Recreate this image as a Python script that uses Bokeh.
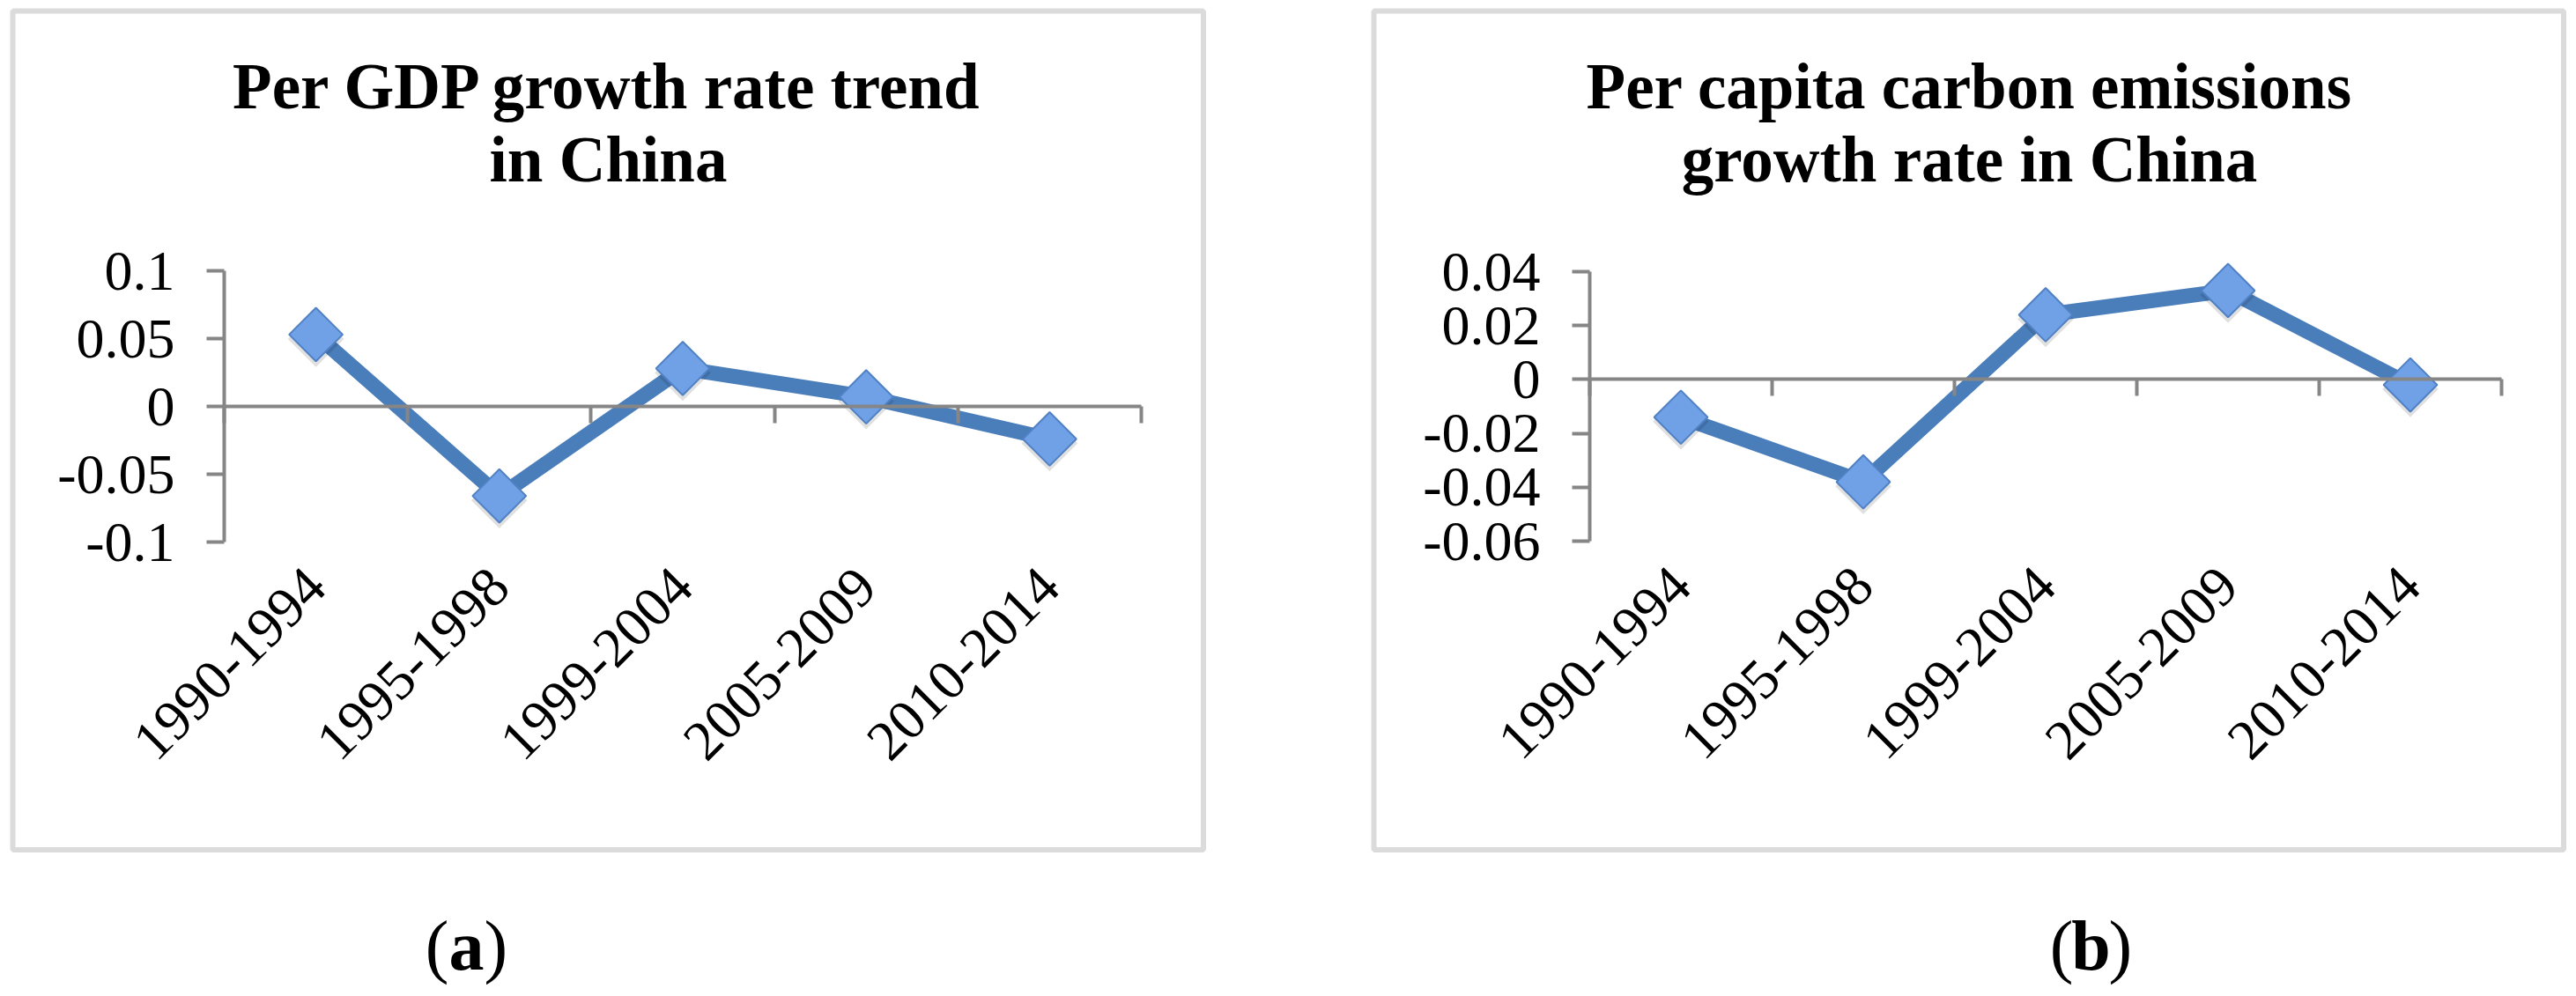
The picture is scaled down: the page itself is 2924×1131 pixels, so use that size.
import math
from bokeh.plotting import figure
from bokeh.models import Range1d, FixedTicker, Label, BoxAnnotation, LinearAxis
from bokeh.layouts import row
from bokeh.embed import file_html
from bokeh.resources import INLINE

# ---- data ----
categories = ["1990-1994", "1995-1998", "1999-2004", "2005-2009", "2010-2014"]
gdp_growth = [0.053, -0.066, 0.028, 0.007, -0.024]
carbon_growth = [-0.014, -0.038, 0.024, 0.033, -0.002]
gdp_ticks = [-0.1, -0.05, 0.0, 0.05, 0.1]
carbon_ticks = [-0.06, -0.04, -0.02, 0.0, 0.02, 0.04]
gdp_title = ["Per GDP growth rate trend", "in China"]
carbon_title = ["Per capita carbon emissions", "growth rate in China"]
captions = ["a", "b"]

GRAY = "#868686"
LINE_BLUE = "#4a7ebb"
FONT = "Liberation Serif"
H = 1131


def panel(values, ticks, title_lines, caption, W, fl, fr, ft, fb, box, title_px, cap_px):
    n = len(categories)
    ymin, ymax = ticks[0], ticks[-1]
    ux = (fr - fl) / n                 # pixels per category
    uy = (fb - ft) / (ymax - ymin)     # pixels per value unit

    def X(px):
        return (px - fl) / ux

    def Y(py):
        return ymax - (py - ft) / uy

    p = figure(width=W, height=H, x_range=Range1d(X(0), X(W)), y_range=Range1d(Y(H), Y(0)),
               output_backend="svg", toolbar_location=None,
               x_axis_location=None, y_axis_location=None, min_border=0)
    p.outline_line_color = None
    p.grid.visible = False
    p.background_fill_color = "white"
    p.border_fill_color = "white"

    # vertical value axis at the left boundary of the plot area
    ya = LinearAxis(fixed_location=0, bounds=(ymin, ymax),
                    ticker=FixedTicker(ticks=ticks, minor_ticks=[]))
    ya.major_label_overrides = {float(t): f"{t:g}" for t in ticks}
    ya.axis_line_color = GRAY
    ya.axis_line_width = 4
    ya.major_tick_line_color = GRAY
    ya.major_tick_line_width = 4
    ya.major_tick_out = 20
    ya.major_tick_in = 0
    ya.minor_tick_line_color = None
    ya.major_label_text_font = FONT
    ya.major_label_text_font_size = "64px"
    ya.major_label_text_color = "black"
    ya.major_label_standoff = 36
    p.add_layout(ya, "left")

    # horizontal axis line at zero, ticks between categories
    bounds = list(range(0, n + 1))
    za = LinearAxis(fixed_location=0, bounds=(0, n),
                    ticker=FixedTicker(ticks=bounds, minor_ticks=[]))
    za.major_label_overrides = {b: "" for b in bounds}
    za.axis_line_color = GRAY
    za.axis_line_width = 4
    za.major_tick_line_color = GRAY
    za.major_tick_line_width = 4
    za.major_tick_out = 19
    za.major_tick_in = 0
    za.minor_tick_line_color = None
    p.add_layout(za, "below")

    # category labels below the plot area
    centers = [i + 0.5 for i in range(n)]
    xa = LinearAxis(fixed_location=ymin, ticker=FixedTicker(ticks=centers, minor_ticks=[]))
    xa.major_label_overrides = {c: cat for c, cat in zip(centers, categories)}
    xa.axis_line_color = None
    xa.major_tick_line_color = None
    xa.minor_tick_line_color = None
    xa.major_tick_out = 0
    xa.major_tick_in = 0
    xa.major_label_orientation = math.pi / 4
    xa.major_label_text_font = FONT
    xa.major_label_text_font_size = "64px"
    xa.major_label_text_color = "black"
    xa.major_label_standoff = 40
    p.add_layout(xa, "below")

    # series
    p.line(x=centers, y=values, line_color=LINE_BLUE, line_width=17, line_join="round")
    p.scatter(x=centers, y=[v - 5 / uy for v in values], marker="square", angle=math.pi / 4,
              size=45, fill_color="black", fill_alpha=0.12, line_color=None)
    p.scatter(x=centers, y=values, marker="square", angle=math.pi / 4, size=43,
              fill_color="#70a0e6", line_color="#4f81c4", line_width=2)

    # title (two lines)
    for line, yb in zip(title_lines, [98, 181]):
        p.add_layout(Label(x=X(title_px), y=Y(yb), text=line,
                           text_align="center", text_baseline="alphabetic", text_font=FONT,
                           text_font_style="bold", text_font_size="73px", text_color="black"))

    # outer box
    bl, br, bt, bb = box
    p.add_layout(BoxAnnotation(left=X(bl), right=X(br), top=Y(bt), bottom=Y(bb),
                               fill_color=None, fill_alpha=0, line_color="#878787",
                               line_width=6))

    # caption "(a)"
    cy = Y(1073)
    p.add_layout(Label(x=X(cap_px - 20), y=cy, text="(",
                       text_align="right", text_baseline="alphabetic", text_font=FONT,
                       text_font_size="80px", text_color="black"))
    p.add_layout(Label(x=X(cap_px), y=cy, text=caption,
                       text_align="center", text_baseline="alphabetic", text_font=FONT,
                       text_font_style="bold", text_font_size="80px", text_color="black"))
    p.add_layout(Label(x=X(cap_px + 20), y=cy, text=")",
                       text_align="left", text_baseline="alphabetic", text_font=FONT,
                       text_font_size="80px", text_color="black"))
    return p


# left panel: figure origin at page (0, 0)
p1 = panel(gdp_growth, gdp_ticks, gdp_title, captions[0], W=1460,
           fl=254, fr=1295, ft=307, fb=615,
           box=(14, 1365.5, 12, 964.5), title_px=690, cap_px=529)
# right panel: figure origin at page (1460, 0)
p2 = panel(carbon_growth, carbon_ticks, carbon_title, captions[1], W=1464,
           fl=344, fr=1379, ft=308, fb=614,
           box=(99, 1449.5, 12, 964.5), title_px=775, cap_px=913)

layout = row(p1, p2, spacing=0)
open("out.html", "w").write(file_html(layout, INLINE))
